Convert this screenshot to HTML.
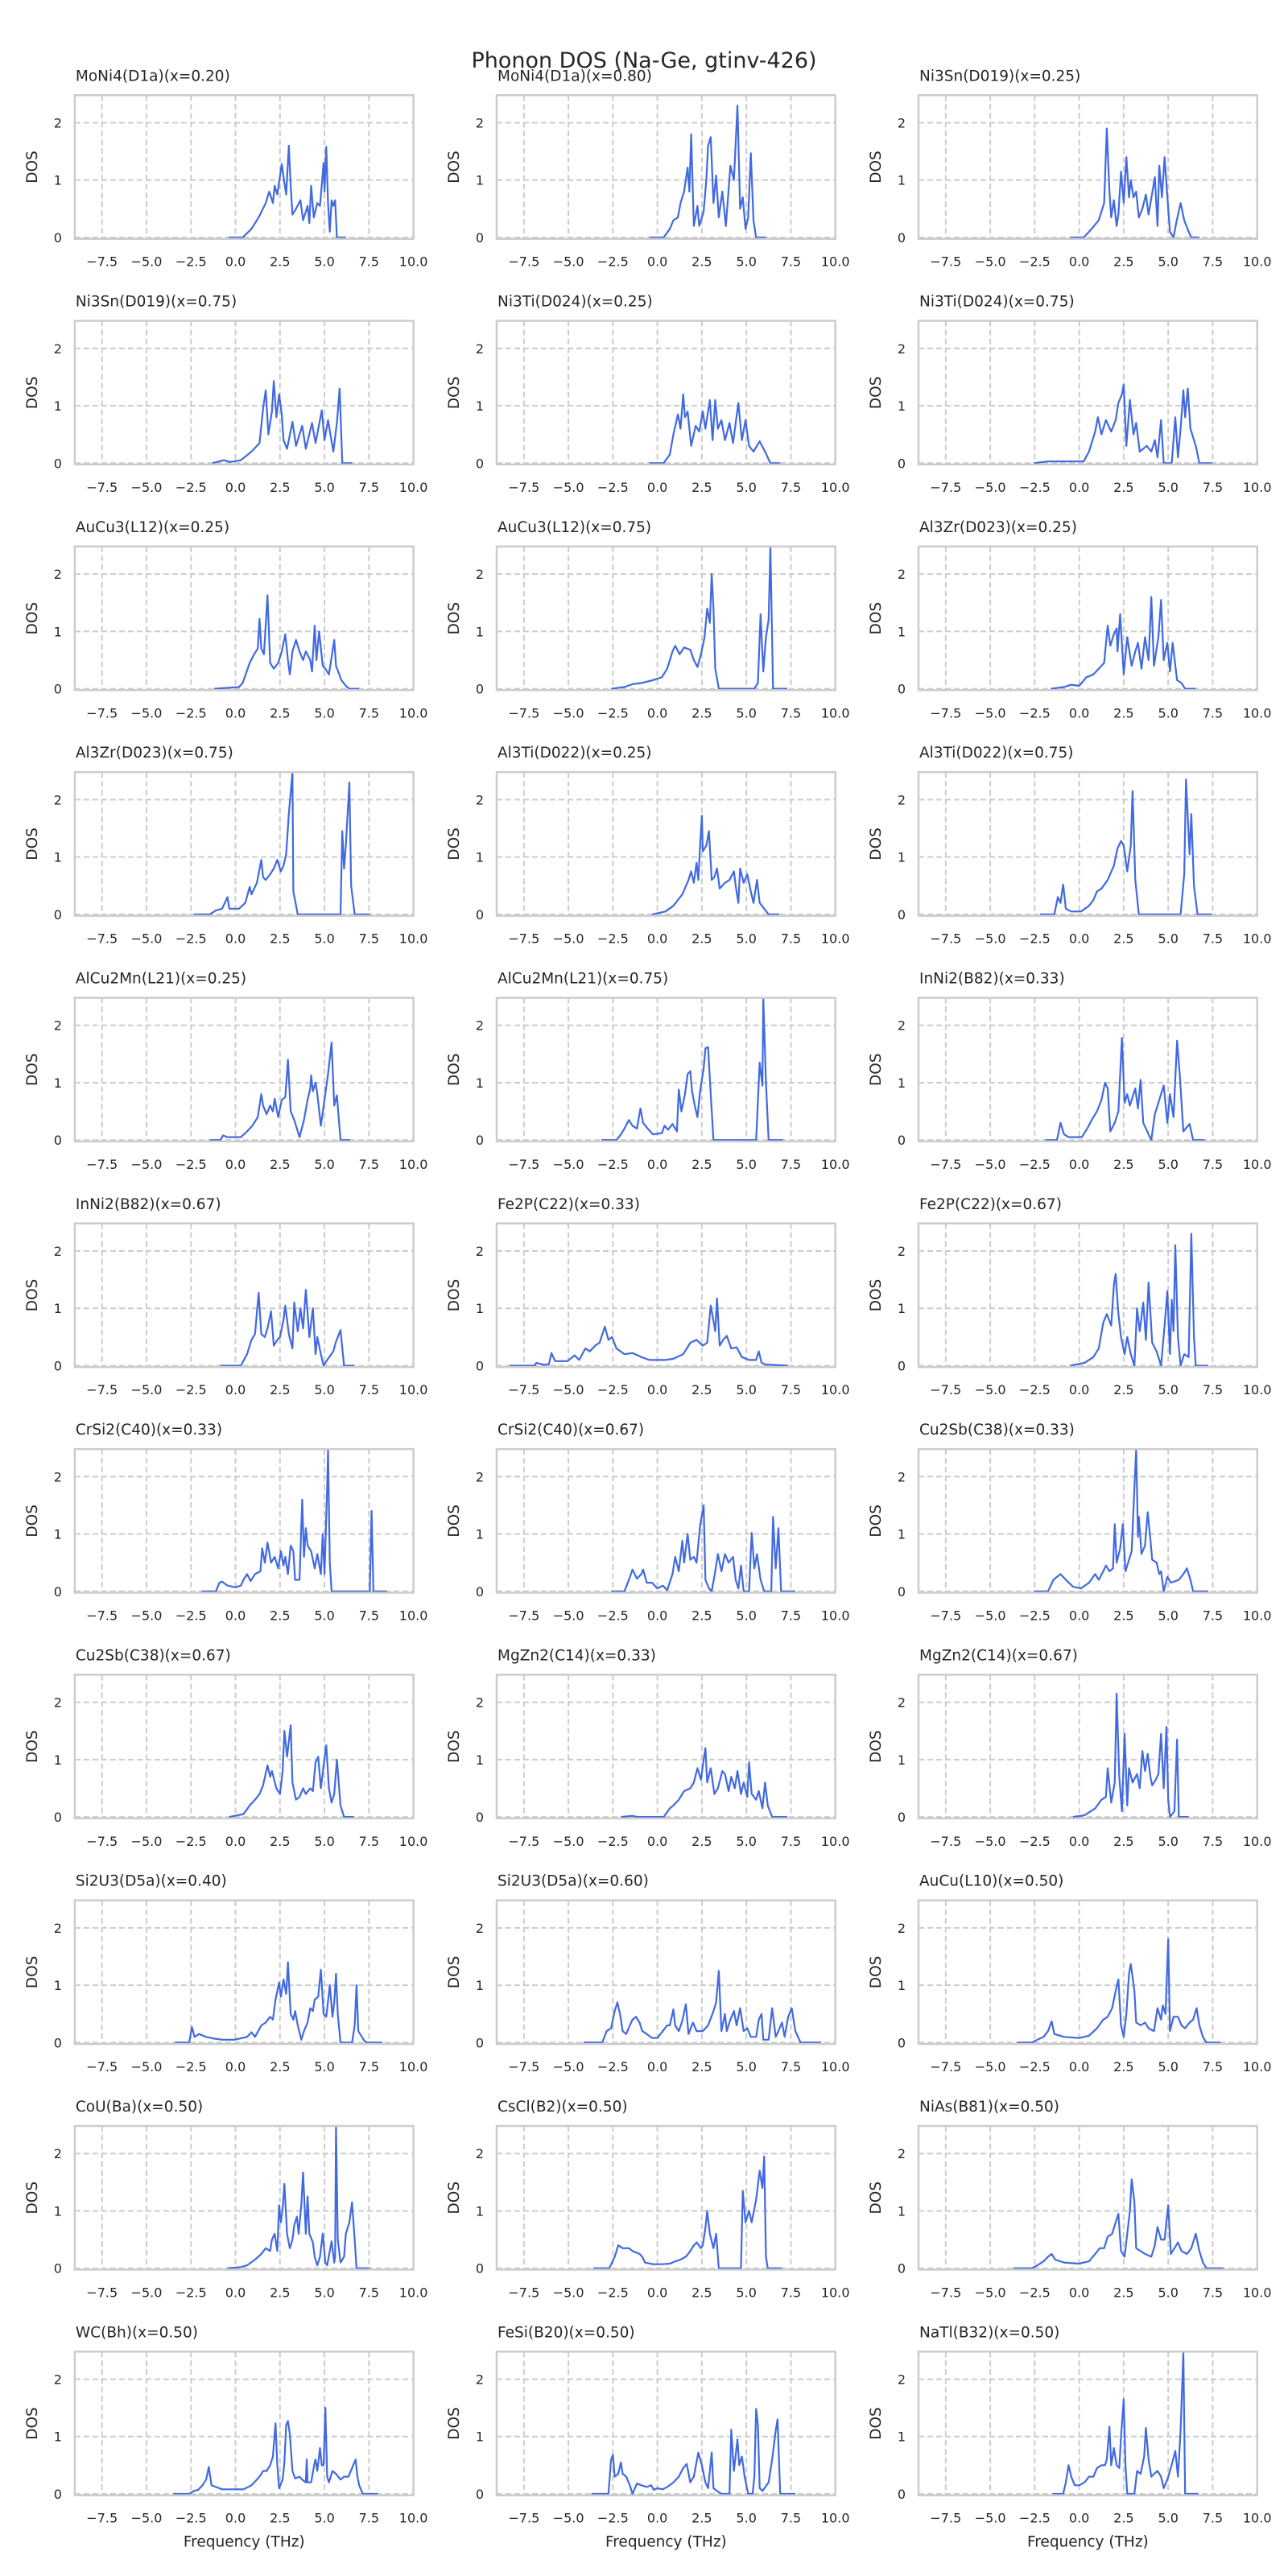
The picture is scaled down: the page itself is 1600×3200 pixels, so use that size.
<!DOCTYPE html>
<html><head><meta charset="utf-8"><style>
html,body{margin:0;padding:0;background:#fff;}
svg{display:block;font-family:"DejaVu Sans","Liberation Sans",sans-serif;}
</style></head><body>
<svg id="fig" width="1600" height="3200" viewBox="0 0 1600 3200" xmlns="http://www.w3.org/2000/svg">
<rect width="1600" height="3200" fill="#fff"/>
<text x="800" y="84" text-anchor="middle" font-size="27" fill="#262626">Phonon DOS (Na-Ge, gtinv-426)</text>
</svg>
<script>
const titles = ["MoNi4(D1a)(x=0.20)","MoNi4(D1a)(x=0.80)","Ni3Sn(D019)(x=0.25)","Ni3Sn(D019)(x=0.75)","Ni3Ti(D024)(x=0.25)","Ni3Ti(D024)(x=0.75)","AuCu3(L12)(x=0.25)","AuCu3(L12)(x=0.75)","Al3Zr(D023)(x=0.25)","Al3Zr(D023)(x=0.75)","Al3Ti(D022)(x=0.25)","Al3Ti(D022)(x=0.75)","AlCu2Mn(L21)(x=0.25)","AlCu2Mn(L21)(x=0.75)","InNi2(B82)(x=0.33)","InNi2(B82)(x=0.67)","Fe2P(C22)(x=0.33)","Fe2P(C22)(x=0.67)","CrSi2(C40)(x=0.33)","CrSi2(C40)(x=0.67)","Cu2Sb(C38)(x=0.33)","Cu2Sb(C38)(x=0.67)","MgZn2(C14)(x=0.33)","MgZn2(C14)(x=0.67)","Si2U3(D5a)(x=0.40)","Si2U3(D5a)(x=0.60)","AuCu(L10)(x=0.50)","CoU(Ba)(x=0.50)","CsCl(B2)(x=0.50)","NiAs(B81)(x=0.50)","WC(Bh)(x=0.50)","FeSi(B20)(x=0.50)","NaTl(B32)(x=0.50)"];
const xTicks = [-7.5,-5,-2.5,0,2.5,5,7.5,10];
const xTickLabels = ["\u22127.5","\u22125.0","\u22122.5","0.0","2.5","5.0","7.5","10.0"];
const yTicks = [0,1,2];
const yTickLabels = ["0","1","2"];

const f00=[-0.4,0.4,0.9,1.3,1.7,1.9,2.1,2.2,2.35,2.6,2.75,2.85,3.0,3.1,3.2,3.4,3.65,3.8,4.05,4.15,4.25,4.4,4.6,4.75,4.95,5.0,5.1,5.2,5.3,5.4,5.5,5.6,5.7,6.2];
const d00=[0,0,0.15,0.35,0.6,0.8,0.6,0.9,0.75,1.28,0.95,0.75,1.6,0.9,0.4,0.5,0.65,0.3,0.55,0.25,0.9,0.35,0.6,0.55,1.3,0.8,1.58,0.6,0.1,0.65,0.55,0.65,0,0];
const f01=[-0.45,0.35,0.7,0.9,1.15,1.3,1.5,1.7,1.8,1.9,2.05,2.25,2.35,2.6,2.75,2.85,3.0,3.15,3.3,3.45,3.65,3.85,4.1,4.3,4.5,4.65,4.8,4.95,5.1,5.25,5.4,5.55,6.1];
const d01=[0,0,0.15,0.3,0.35,0.6,0.8,1.22,0.8,1.8,0.2,0.55,0.2,0.45,1.0,1.6,1.75,0.6,1.08,0.35,0.8,0.2,1.25,1.0,2.3,0.5,0.7,0.15,0.35,1.47,0.3,0,0];
const f02=[-0.5,0.25,0.7,1.1,1.4,1.55,1.7,1.8,1.95,2.1,2.2,2.35,2.5,2.65,2.8,2.9,3.05,3.2,3.35,3.55,3.75,3.9,4.25,4.4,4.5,4.65,4.8,5.0,5.1,5.3,5.45,5.7,5.9,6.15,6.3,6.75];
const d02=[0,0,0.15,0.3,0.6,1.9,0.8,0.35,0.65,0.2,0.4,1.15,0.6,1.4,0.7,1.0,0.7,0.8,0.35,0.5,0.75,0.4,1.05,0.2,1.25,0.7,1.4,0.5,0.1,0,0.25,0.6,0.3,0.1,0,0];
const f03=[-1.3,-0.65,-0.3,0.3,0.9,1.35,1.55,1.7,1.85,2.05,2.15,2.3,2.45,2.6,2.7,2.9,3.2,3.4,3.75,3.95,4.3,4.5,4.85,5.0,5.2,5.5,5.7,5.85,6.0,6.55];
const d03=[0,0.05,0.02,0.05,0.2,0.35,0.95,1.27,0.5,0.9,1.43,0.8,1.2,0.85,0.4,0.25,0.72,0.3,0.65,0.25,0.7,0.35,0.92,0.4,0.75,0.2,0.7,1.3,0,0];
const f04=[-0.45,0.35,0.7,0.9,1.15,1.3,1.45,1.55,1.7,1.9,2.15,2.35,2.55,2.7,2.95,3.1,3.25,3.4,3.6,3.8,4.05,4.25,4.55,4.75,4.95,5.15,5.4,5.75,6.05,6.35,6.9];
const d04=[0,0,0.15,0.5,0.85,0.6,1.2,0.8,0.9,0.3,0.65,0.55,0.9,0.6,1.1,0.4,1.1,0.6,0.75,0.4,0.7,0.35,1.05,0.4,0.75,0.3,0.2,0.38,0.2,0,0];
const f05=[-2.55,-1.75,0.25,0.55,0.9,1.05,1.25,1.5,1.8,2.05,2.2,2.4,2.5,2.65,2.85,3.05,3.2,3.4,3.8,4.05,4.25,4.4,4.6,4.75,5.2,5.4,5.55,5.7,5.85,5.95,6.1,6.25,6.55,6.75,7.5];
const d05=[0,0.03,0.03,0.2,0.55,0.8,0.5,0.75,0.55,0.75,1.05,1.2,1.37,0.3,1.1,0.5,0.7,0.2,0.3,0.2,0.4,0.1,0.75,0,0,0.8,0.1,0.6,1.27,0.8,1.3,0.6,0.3,0,0];
const f06=[-1.2,0.2,0.4,0.8,1.05,1.25,1.35,1.45,1.6,1.8,1.95,2.15,2.4,2.6,2.8,2.95,3.05,3.2,3.4,3.6,3.8,3.95,4.2,4.3,4.45,4.55,4.7,4.9,5.05,5.25,5.55,5.65,5.95,6.2,6.4,6.95];
const d06=[0,0.03,0.1,0.45,0.6,0.7,1.22,0.7,0.6,1.63,0.45,0.35,0.45,0.65,0.95,0.5,0.25,0.65,0.85,0.65,0.5,0.65,0.5,0.3,1.1,0.5,1.0,0.4,0.35,0.25,0.85,0.4,0.15,0.05,0,0];
const f07=[-2.6,-1.85,-1.4,-0.9,-0.25,0.25,0.55,0.85,1.0,1.25,1.5,1.85,2.05,2.25,2.45,2.65,2.8,2.95,3.05,3.15,3.25,3.45,5.45,5.65,5.8,5.95,6.1,6.25,6.35,6.5,7.3];
const d07=[0,0.03,0.08,0.1,0.15,0.2,0.35,0.65,0.75,0.6,0.72,0.68,0.5,0.38,0.6,0.9,1.4,1.15,2.0,1.4,0.35,0,0,0.1,1.3,0.3,0.9,1.2,2.5,0,0];
const f08=[-1.6,-0.85,-0.45,0,0.4,0.8,1.1,1.4,1.6,1.75,1.95,2.1,2.15,2.3,2.5,2.7,2.95,3.15,3.3,3.5,3.7,3.9,4.05,4.2,4.45,4.6,4.75,4.95,5.1,5.25,5.5,5.75,5.95,6.55];
const d08=[0,0.03,0.07,0.05,0.2,0.25,0.35,0.45,1.1,0.75,0.95,1.05,0.65,1.3,0.25,0.9,0.4,0.65,0.8,0.35,0.9,0.5,1.6,0.4,0.9,1.55,0.5,0.8,0.3,0.8,0.15,0.1,0,0];
const f09=[-2.35,-1.45,-1.1,-0.75,-0.45,-0.35,0.2,0.55,0.8,0.9,1.2,1.45,1.55,1.7,1.95,2.15,2.35,2.55,2.7,2.85,3.0,3.2,3.25,3.5,5.9,6.0,6.1,6.2,6.4,6.5,6.7,7.55];
const d09=[0,0,0.07,0.1,0.3,0.1,0.1,0.2,0.48,0.35,0.55,0.95,0.65,0.6,0.7,0.8,0.95,0.75,0.85,1.05,1.75,2.5,0.4,0,0,1.45,0.8,1.2,2.3,0.5,0,0];
const f10=[-0.3,0.45,0.9,1.4,1.75,1.9,2.05,2.2,2.3,2.4,2.5,2.55,2.75,2.9,3.05,3.2,3.35,3.5,3.8,4.05,4.3,4.4,4.55,4.65,4.85,5.05,5.25,5.4,5.6,5.75,6.0,6.25,6.85];
const d10=[0,0.05,0.15,0.35,0.6,0.75,0.55,0.9,0.6,1.2,1.72,1.1,1.2,1.45,0.6,0.65,0.8,0.45,0.55,0.6,0.75,0.5,0.2,0.8,0.55,0.7,0.4,0.2,0.6,0.2,0.1,0,0];
const f11=[-2.2,-1.4,-1.2,-1.05,-0.9,-0.75,-0.45,0.1,0.55,0.8,1.0,1.25,1.6,1.95,2.15,2.35,2.5,2.7,2.9,3.0,3.15,3.35,5.7,5.9,6.0,6.1,6.2,6.3,6.45,6.65,7.45];
const d11=[0,0,0.3,0.2,0.52,0.1,0.05,0.05,0.15,0.25,0.4,0.45,0.6,0.85,1.15,1.28,1.2,0.75,1.2,2.15,0.6,0,0,0.7,2.35,1.7,1.05,1.75,0.5,0,0];
const f12=[-1.45,-0.85,-0.7,-0.45,0.3,0.65,0.95,1.25,1.45,1.55,1.75,1.95,2.1,2.2,2.4,2.6,2.8,2.95,3.1,3.3,3.6,3.85,4.05,4.2,4.25,4.35,4.5,4.6,4.8,5.0,5.2,5.4,5.55,5.7,5.9,6.45];
const d12=[0,0,0.08,0.05,0.05,0.15,0.25,0.4,0.8,0.6,0.45,0.6,0.5,0.72,0.4,0.7,0.75,1.4,0.5,0.35,0.05,0.35,0.7,0.9,1.13,0.85,1.0,0.8,0.25,0.7,1.15,1.7,0.6,0.78,0,0];
const f13=[-3.15,-2.3,-2.05,-1.85,-1.6,-1.4,-1.15,-0.95,-0.8,-0.55,-0.25,0.25,0.4,0.6,0.85,1.1,1.2,1.35,1.55,1.7,1.85,1.95,2.1,2.25,2.4,2.6,2.7,2.85,3.0,3.15,5.55,5.75,5.9,5.95,6.1,6.25,7.05];
const d13=[0,0,0.1,0.2,0.35,0.25,0.2,0.55,0.3,0.2,0.1,0.12,0.25,0.18,0.28,0.15,0.88,0.5,0.8,1.15,1.2,0.85,0.6,0.4,0.85,1.25,1.6,1.62,0.8,0,0,1.35,0.95,2.5,1.0,0,0];
const f14=[-1.9,-1.25,-1.05,-0.85,-0.6,0.15,0.45,0.7,1.0,1.25,1.45,1.6,1.75,2.0,2.2,2.4,2.55,2.7,2.85,3.15,3.3,3.45,3.6,3.9,4.05,4.25,4.45,4.75,4.95,5.1,5.3,5.5,5.65,5.85,6.2,6.4,7.05];
const d14=[0,0,0.3,0.1,0.05,0.05,0.2,0.35,0.5,0.7,1.0,0.9,0.15,0.3,0.5,1.78,0.65,0.8,0.6,0.9,0.55,1.05,0.3,0.1,0,0.45,0.65,0.95,0.3,0.8,0.4,1.73,1.15,0.15,0.28,0,0];
const f15=[-0.85,0.3,0.65,0.9,1.1,1.3,1.45,1.65,1.8,2.0,2.15,2.35,2.5,2.7,2.8,3.0,3.2,3.3,3.5,3.65,3.8,3.95,4.15,4.35,4.5,4.6,4.8,4.95,5.15,5.5,5.65,5.9,6.1,6.7];
const d15=[0,0,0.2,0.45,0.55,1.27,0.55,0.5,0.65,0.95,0.35,0.45,0.5,0.8,1.05,0.55,0.3,1.1,0.6,1.0,0.65,1.32,0.5,1.0,0.2,0.5,0.2,0,0.1,0.25,0.42,0.62,0,0];
const f16=[-8.3,-6.9,-6.8,-6.45,-6.1,-5.95,-5.75,-5.05,-4.65,-4.4,-4.05,-3.8,-3.5,-3.25,-2.95,-2.75,-2.55,-2.3,-1.85,-1.4,-0.9,-0.45,0.45,0.9,1.45,1.85,2.2,2.55,2.8,3.0,3.25,3.35,3.5,3.7,3.9,4.15,4.45,4.75,5.15,5.55,5.7,5.85,6.1,7.35];
const d16=[0,0,0.05,0.02,0.02,0.22,0.08,0.08,0.18,0.1,0.3,0.25,0.35,0.4,0.68,0.45,0.5,0.3,0.2,0.22,0.15,0.1,0.1,0.12,0.2,0.4,0.45,0.35,0.4,1.05,0.6,1.17,0.35,0.45,0.52,0.3,0.32,0.15,0.1,0.1,0.25,0.05,0.02,0];
const f17=[-0.5,0.3,0.8,1.1,1.35,1.55,1.8,1.95,2.05,2.2,2.35,2.55,2.7,2.9,3.1,3.25,3.4,3.6,3.75,3.9,4.1,4.35,4.6,4.8,4.95,5.1,5.2,5.3,5.4,5.55,5.7,5.9,6.15,6.3,6.45,6.55,7.25];
const d17=[0,0.05,0.15,0.3,0.75,0.9,0.7,1.4,1.6,0.9,0.5,0.2,0.5,0.2,0,1.0,0.6,1.1,0.45,1.45,0.4,0.25,0,0.7,1.3,0.2,1.15,0.6,2.1,0.5,0,0.2,0.15,2.3,0.5,0,0];
const f18=[-1.9,-1.1,-0.9,-0.75,-0.45,0,0.3,0.45,0.65,0.85,1.1,1.4,1.5,1.65,1.8,2.0,2.2,2.4,2.55,2.7,2.8,2.95,3.1,3.25,3.35,3.6,3.75,3.85,3.95,4.05,4.25,4.45,4.6,4.8,4.9,5.0,5.15,5.2,5.3,5.4,7.55,7.65,7.75,8.5];
const d18=[0,0,0.15,0.17,0.1,0.07,0.1,0.2,0.3,0.18,0.3,0.35,0.75,0.5,0.85,0.5,0.6,0.4,0.7,0.45,0.6,0.3,0.8,0.7,0.2,0.2,1.6,0.6,1.1,0.8,0.7,0.4,0.65,0.3,1.0,0.3,1.8,2.5,0.5,0,0,1.4,0,0];
const f19=[-2.6,-1.85,-1.6,-1.4,-1.15,-0.9,-0.8,-0.6,-0.3,0,0.3,0.55,0.85,1.0,1.2,1.4,1.5,1.7,1.85,2.05,2.2,2.4,2.6,2.7,2.9,3.05,3.25,3.4,3.6,3.8,4.0,4.25,4.4,4.55,4.7,4.85,5.15,5.3,5.45,5.6,5.8,6.0,6.4,6.5,6.65,6.8,6.95,7.75];
const d19=[0,0,0.2,0.38,0.22,0.3,0.38,0.15,0.15,0.05,0.1,0.02,0.3,0.6,0.35,0.88,0.5,1.0,0.55,0.6,0.5,1.15,1.5,0.2,0.05,0,0.35,0.65,0.35,0.65,0.5,0.6,0.2,0.05,0.45,0,0,1.02,0.4,0.65,0.2,0,0,1.3,0.4,1.1,0,0];
const f20=[-2.55,-1.75,-1.45,-1.05,-0.75,-0.35,0.1,0.55,0.9,1.1,1.35,1.5,1.7,1.9,2.0,2.1,2.3,2.45,2.6,2.75,2.95,3.1,3.2,3.3,3.35,3.5,3.7,3.85,4.0,4.1,4.35,4.5,4.6,4.75,4.95,5.15,5.6,5.85,6.05,6.25,6.4,7.25];
const d20=[0,0,0.2,0.3,0.2,0.08,0.05,0.15,0.3,0.2,0.35,0.45,0.35,0.4,1.17,0.5,0.75,1.17,0.35,0.5,0.7,1.8,2.5,0.95,1.3,0.65,0.8,1.38,0.9,0.55,0.5,0.3,0.35,0,0.25,0.15,0.2,0.3,0.4,0.2,0,0];
const f21=[-0.35,0.45,0.8,1.1,1.35,1.55,1.8,1.95,2.05,2.3,2.5,2.65,2.75,2.9,3.1,3.2,3.4,3.6,3.8,3.95,4.2,4.35,4.5,4.65,4.8,4.95,5.1,5.25,5.4,5.55,5.7,5.9,6.1,6.65];
const d21=[0,0.05,0.2,0.3,0.4,0.55,0.9,0.7,0.8,0.5,0.4,0.8,1.5,1.05,1.6,0.6,0.3,0.35,0.5,0.4,0.5,0.45,0.95,1.05,0.5,0.9,1.25,0.5,0.25,0.4,1.0,0.2,0,0];
const f22=[-2.05,-1.4,-1.15,0.35,0.7,0.9,1.2,1.5,1.85,2.05,2.25,2.45,2.6,2.7,2.8,3.0,3.2,3.4,3.65,3.8,4.0,4.15,4.35,4.5,4.7,4.85,5.05,5.15,5.3,5.55,5.7,5.9,6.05,6.2,6.45,7.3];
const d22=[0,0.02,0,0,0.15,0.2,0.3,0.45,0.5,0.6,0.85,0.65,1.0,1.2,0.6,0.85,0.4,0.5,0.8,0.75,0.45,0.7,0.5,0.8,0.4,0.6,0.35,0.95,0.4,0.3,0.45,0.15,0.6,0.2,0,0];
const f23=[-0.35,0.3,0.9,1.25,1.5,1.6,1.8,2.0,2.1,2.25,2.4,2.55,2.7,2.8,3.0,3.25,3.4,3.55,3.7,3.85,4.0,4.1,4.3,4.45,4.6,4.75,4.9,5.0,5.1,5.35,5.5,5.6,6.15];
const d23=[0,0.03,0.15,0.3,0.35,0.85,0.25,0.6,2.15,0.7,0.1,1.45,0.2,0.85,0.6,0.75,0.5,1.15,0.8,1.1,0.7,0.55,0.65,0.75,1.45,0.5,1.57,0.3,0,0.1,1.35,0,0];
const f24=[-3.4,-2.6,-2.45,-2.3,-2.05,-1.65,-1.2,-0.75,-0.05,0.65,0.9,1.1,1.45,1.7,1.95,2.1,2.25,2.45,2.55,2.7,2.85,2.95,3.1,3.25,3.35,3.5,3.7,3.85,4.05,4.2,4.35,4.45,4.65,4.8,4.95,5.1,5.3,5.45,5.55,5.65,5.75,5.9,6.55,6.7,6.8,6.9,7.2,7.35,8.25];
const d24=[0,0,0.27,0.1,0.15,0.1,0.07,0.05,0.05,0.1,0.18,0.1,0.3,0.35,0.45,0.4,0.75,1.05,0.8,1.1,0.85,1.4,0.5,0.4,0.55,0.3,0.05,0.2,0.35,0.6,0.55,0.75,0.8,1.27,0.5,0.45,1.0,0.45,0.7,1.2,0.5,0,0,0.3,1.0,0.2,0.05,0,0];
const f25=[-4.15,-3.1,-2.85,-2.6,-2.4,-2.25,-2.1,-1.95,-1.75,-1.55,-1.4,-1.2,-1.0,-0.85,-0.6,-0.3,0,0.3,0.55,0.7,0.9,1.0,1.2,1.4,1.6,1.75,2.0,2.2,2.55,2.85,3.15,3.3,3.45,3.6,3.8,3.9,4.1,4.3,4.45,4.65,4.85,5.05,5.25,5.55,5.7,5.85,5.95,6.25,6.45,6.65,6.8,7.0,7.15,7.35,7.55,7.75,8.05,9.2];
const d25=[0,0,0.2,0.25,0.55,0.7,0.5,0.2,0.15,0.3,0.4,0.45,0.35,0.2,0.15,0.08,0.08,0.2,0.3,0.3,0.58,0.3,0.2,0.38,0.67,0.15,0.35,0.2,0.2,0.3,0.55,0.7,1.25,0.2,0.5,0.2,0.4,0.55,0.3,0.6,0.2,0.25,0.1,0.1,0.4,0.5,0.05,0.05,0.6,0.1,0.2,0.35,0.1,0.45,0.6,0.2,0,0];
const f26=[-3.5,-2.65,-2.35,-2.0,-1.75,-1.55,-1.4,-0.85,0,0.55,1.0,1.35,1.6,1.85,2.05,2.2,2.35,2.5,2.65,2.8,2.9,3.1,3.2,3.45,3.7,3.9,4.2,4.4,4.6,4.7,4.85,5.0,5.1,5.3,5.55,5.75,5.95,6.2,6.4,6.6,6.75,6.95,7.15,7.95];
const d26=[0,0,0.05,0.1,0.2,0.37,0.15,0.1,0.08,0.12,0.25,0.4,0.45,0.6,0.9,1.1,0.3,0.1,0.5,1.2,1.37,0.9,0.35,0.3,0.35,0.25,0.2,0.6,0.4,0.65,0.5,1.8,0.2,0.45,0.45,0.3,0.25,0.35,0.4,0.6,0.3,0.1,0,0];
const f27=[-0.45,0.3,0.65,1.1,1.45,1.7,1.95,2.05,2.2,2.35,2.45,2.55,2.65,2.75,2.9,3.05,3.2,3.3,3.45,3.55,3.7,3.8,3.95,4.05,4.15,4.35,4.45,4.6,4.75,4.9,5.05,5.15,5.4,5.55,5.6,5.65,5.75,5.9,6.1,6.2,6.4,6.55,6.7,6.8,7.55];
const d27=[0,0.02,0.05,0.15,0.25,0.35,0.3,0.5,0.6,0.3,1.1,0.8,1.05,1.47,0.6,0.35,0.5,0.75,0.9,0.6,1.1,1.67,0.6,1.25,0.6,0.45,0.2,0.05,0.2,0.6,0.1,0.05,0.47,0.1,0.2,2.5,0.5,0.1,0.2,0.6,0.8,1.15,0.5,0,0];
const f28=[-3.6,-2.7,-2.4,-2.2,-1.95,-1.6,-1.4,-1.0,-0.85,-0.7,-0.25,0.25,0.7,1.0,1.3,1.6,1.85,2.05,2.2,2.45,2.55,2.7,2.8,2.95,3.15,3.3,3.45,4.7,4.8,4.95,5.15,5.3,5.55,5.75,5.9,6.0,6.1,6.2,7.0];
const d28=[0,0,0.2,0.4,0.35,0.35,0.3,0.25,0.2,0.1,0.07,0.07,0.08,0.12,0.15,0.2,0.3,0.4,0.45,0.35,0.4,0.7,1.0,0.6,0.35,0.6,0,0,1.35,0.8,1.0,0.8,1.2,1.7,1.4,1.95,0.2,0,0];
const f29=[-3.7,-2.65,-2.35,-2.0,-1.75,-1.55,-1.35,-0.85,0,0.55,0.9,1.15,1.4,1.6,1.85,2.05,2.2,2.35,2.55,2.7,2.85,2.95,3.1,3.2,3.45,3.7,4.05,4.25,4.4,4.6,4.8,5.0,5.15,5.35,5.55,5.75,6.05,6.3,6.55,6.75,6.95,7.15,8.1];
const d29=[0,0,0.05,0.12,0.2,0.25,0.15,0.1,0.08,0.12,0.25,0.35,0.35,0.55,0.6,0.8,0.95,0.3,0.2,0.6,1.0,1.55,1.15,0.35,0.3,0.25,0.2,0.4,0.72,0.5,0.5,1.1,0.25,0.35,0.45,0.3,0.25,0.35,0.6,0.3,0.1,0,0];
const f30=[-3.5,-2.6,-2.35,-2.1,-1.85,-1.65,-1.5,-1.35,-1.1,-0.75,-0.05,0.45,0.9,1.2,1.4,1.55,1.75,1.95,2.1,2.15,2.25,2.35,2.45,2.65,2.75,2.85,2.95,3.05,3.2,3.35,3.6,3.75,3.95,4.0,4.05,4.25,4.45,4.5,4.6,4.75,4.85,4.95,5.05,5.15,5.25,5.45,5.65,5.9,6.1,6.35,6.55,6.75,6.85,6.95,7.15,8.0];
const d30=[0,0,0.05,0.07,0.15,0.25,0.47,0.15,0.12,0.08,0.08,0.08,0.15,0.25,0.32,0.4,0.4,0.5,0.65,0.85,1.23,0.5,0.1,0.25,0.55,1.2,1.27,1.05,0.4,0.27,0.3,0.25,0.2,0.6,0.2,0.2,0.55,0.6,0.4,0.8,0.5,0.5,1.5,0.3,0.2,0.4,0.35,0.25,0.3,0.3,0.45,0.6,0.3,0.15,0,0];
const f31=[-3.7,-2.75,-2.6,-2.5,-2.4,-2.2,-2.05,-1.95,-1.75,-1.55,-1.4,-1.15,-0.9,-0.6,-0.35,-0.2,0,0.3,0.55,0.9,1.2,1.45,1.65,1.85,2.05,2.3,2.5,2.7,2.85,3.05,3.15,3.35,3.6,4.05,4.15,4.3,4.5,4.6,4.75,4.9,5.1,5.35,5.45,5.55,5.65,5.75,5.9,6.25,6.45,6.65,6.75,6.9,7.75];
const d31=[0,0,0.6,0.68,0.3,0.35,0.55,0.35,0.3,0.15,0,0.18,0.15,0.12,0.15,0.07,0.1,0.08,0.12,0.2,0.3,0.45,0.52,0.2,0.3,0.72,0.5,0.2,0.1,0.72,0.1,0.05,0,0,1.12,0.4,0.95,0.5,0.65,0.3,0,0,0.3,1.48,1.2,0.1,0.05,0.2,0.6,1.1,1.3,0,0];
const f32=[-1.5,-0.9,-0.75,-0.6,-0.45,-0.25,0,0.3,0.55,0.8,1.0,1.25,1.45,1.55,1.7,1.8,1.95,2.1,2.25,2.35,2.5,2.6,2.7,3.1,3.25,3.45,3.65,3.75,3.9,4.05,4.2,4.4,4.6,4.75,4.95,5.15,5.4,5.55,5.7,5.85,5.95,6.7];
const d32=[0,0,0.2,0.5,0.3,0.15,0.15,0.2,0.3,0.3,0.45,0.5,0.5,0.6,1.17,0.5,0.8,0.5,0.45,1.0,1.65,0.5,0,0,0.4,0.35,0.65,1.15,0.6,0.3,0.35,0.4,0.3,0.1,0.25,0.45,0.75,0.3,1.1,2.5,0,0];

const freqs=[f00,f01,f02,f03,f04,f05,f06,f07,f08,f09,f10,f11,f12,f13,f14,f15,f16,f17,f18,f19,f20,f21,f22,f23,f24,f25,f26,f27,f28,f29,f30,f31,f32];
const dos=[d00,d01,d02,d03,d04,d05,d06,d07,d08,d09,d10,d11,d12,d13,d14,d15,d16,d17,d18,d19,d20,d21,d22,d23,d24,d25,d26,d27,d28,d29,d30,d31,d32];

const NS="http://www.w3.org/2000/svg";
const svg=document.getElementById('fig');
const XMIN=-9.03, XMAX=10, YMIN=-0.024, YMAX=2.48;
const colLeft=[92.9,617,1141], AW=420.7, AH=178.4, TOP0=118.3, PITCH=280.3;
function mk(tag,attrs,parent){const e=document.createElementNS(NS,tag);for(const k in attrs)e.setAttribute(k,attrs[k]);(parent||svg).appendChild(e);return e;}

titles.forEach((t,i)=>{
  const r=Math.floor(i/3), c=i%3;
  const L=colLeft[c], T=TOP0+r*PITCH;
  const sx=v=>L+(v-XMIN)/(XMAX-XMIN)*AW;
  const sy=v=>T+AH-(v-YMIN)/(YMAX-YMIN)*AH;
  const g=mk('g',{});
  
  
  const bg=mk('rect',{x:L,y:T,width:AW,height:AH,fill:'#fff'},g);
  
  
  xTicks.forEach((v,k)=>{
    const X=sx(v);
    if(v<XMAX){const gl=mk('line',{x1:X,x2:X,y1:T,y2:T+AH,stroke:'#cccccc','stroke-width':2,'stroke-dasharray':'7,4'},g);
    
    }
    const tl=mk('text',{x:X,y:T+AH+34,'text-anchor':'middle','font-size':16,fill:'#262626'},g);
    tl.textContent=xTickLabels[k];
    
    
  });
  yTicks.forEach((v,k)=>{
    const Y=sy(v);
    const gl=mk('line',{x1:L,x2:L+AW,y1:Y,y2:Y,stroke:'#cccccc','stroke-width':2,'stroke-dasharray':'7,4'},g);
    
    
    const tl=mk('text',{x:L-16,y:Y+6,'text-anchor':'end','font-size':16,fill:'#262626'},g);
    tl.textContent=yTickLabels[k];
    
    
  });
  const fx=freqs[i], dy=dos[i];
  let d='';
  for(let k=0;k<fx.length;k++){d+=(k?'L':'M')+sx(fx[k]).toFixed(1)+','+sy(Math.min(dy[k],YMAX)).toFixed(1);}
  const p=mk('path',{d:d,fill:'none',stroke:'#4169e1','stroke-width':2.2,'stroke-linejoin':'round'},g);
  
  
  const fr=mk('rect',{x:L,y:T,width:AW,height:AH,fill:'none',stroke:'#cccccc','stroke-width':2.5},g);
  
  
  const tt=mk('text',{x:L+1,y:T-18,'font-size':18.5,fill:'#262626'},g);
  tt.textContent=t;
  
  
  const yl=mk('text',{x:0,y:0,'text-anchor':'middle','font-size':18.5,fill:'#262626',transform:'translate('+(L-47)+','+(T+AH/2)+') rotate(-90)'},g);
  yl.textContent='DOS';
  
  
  if(r===10){
    const xl=mk('text',{x:L+AW/2,y:T+AH+64,'text-anchor':'middle','font-size':18.5,fill:'#262626'},g);
    xl.textContent='Frequency (THz)';
    
    
  }
});
</script>
</body></html>
